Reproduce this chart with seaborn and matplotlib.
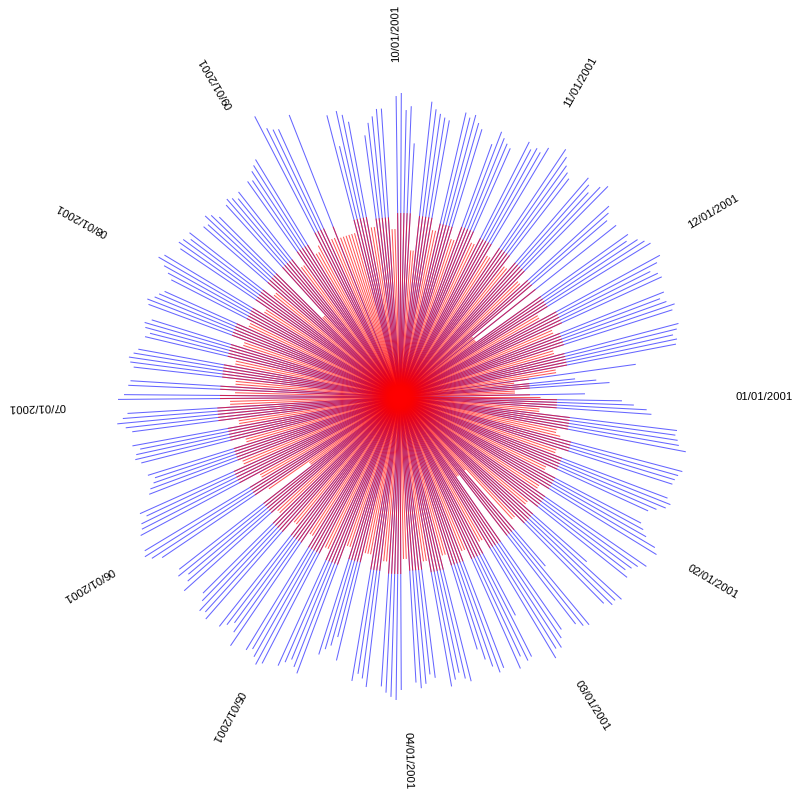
import numpy as np
import pandas as pd
import matplotlib
matplotlib.use("Agg")
import matplotlib.pyplot as plt
import seaborn as sns

# NYSE holidays / closures in 2001
holidays = ["2001-01-01", "2001-01-15", "2001-02-19", "2001-04-13", "2001-05-28",
            "2001-07-04", "2001-09-03", "2001-09-11", "2001-09-12", "2001-09-13",
            "2001-09-14", "2001-11-22", "2001-12-25"]

tick_labels = ["01/01/2001", "02/01/2001", "03/01/2001", "04/01/2001", "05/01/2001",
               "06/01/2001", "07/01/2001", "08/01/2001", "09/01/2001", "10/01/2001",
               "11/01/2001", "12/01/2001"]

# outer (blue) series, one value per trading day
blue = [
    # Jan
    222, 234, 247, 252, 279, 278, 281, 283, 291, 292, 289, 287, 286, 286, 291, 288, 280, 273, 272, 277, 283,
    # Feb
    296, 301, 299, 292, 288, 284, 290, 249, 300, 296, 297, 290, 223, 296, 293, 287, 283, 290, 298,
    # Mar
    296, 304, 247, 291, 293, 286, 297, 290, 293, 285, 276, 264, 293, 289, 282, 288, 294, 283, 279, 288, 292, 286,
    # Apr
    293, 303, 300, 296, 290, 292, 284, 280, 288, 271, 248, 258, 263, 270, 295, 290, 284, 289, 295, 300,
    # May
    304, 298, 292, 296, 301, 288, 280, 286, 292, 295, 290, 293, 284, 278, 290, 281, 276, 285, 280, 287, 296, 301,
    # Jun
    298, 294, 290, 288, 280, 285, 269, 266, 261, 258, 264, 267, 272, 270, 265, 272, 270, 276, 284, 278, 273,
    # Jul
    282, 276, 272, 270, 268, 272, 274, 270, 266, 262, 258, 264, 266, 260, 268, 271, 265, 262, 258, 257, 263,
    # Aug
    270, 279, 275, 265, 270, 268, 262, 267, 260, 258, 266, 262, 255, 259, 263, 260, 256, 261, 264, 262, 270, 274, 278,
    # Sep
    316, 300, 296, 294, 303, 291, 258, 293, 288, 280, 264, 276, 282, 289, 289,
    # Oct
    301, 304, 287, 291, 254, 297, 290, 286, 283, 281, 292, 288, 292, 285, 280, 269, 284, 279, 275, 272, 286, 280, 284,
    # Nov
    282, 290, 298, 292, 285, 280, 276, 289, 284, 278, 290, 296, 283, 278, 272, 276, 280, 275, 285, 290, 294,
    # Dec
    296, 290, 280, 286, 288, 284, 278, 283, 290, 286, 288, 285, 280, 283, 281, 238, 176, 197, 210, 185,
]

# inner (red) series, one value per calendar week (weeks start Monday 01/01/2001):
# level on open-market days and level on weekends / closed days
red_week = [157, 171, 177, 173, 175, 176, 177, 175, 176, 177, 176, 178, 174, 177,
            175, 170, 179, 176, 176, 179, 173, 175, 182, 174, 175, 183, 180, 179,
            177, 179, 172, 174, 175, 175, 178, 185, 183, 183, 180, 184, 182, 178,
            181, 178, 179, 177, 173, 173, 178, 172, 170, 130, 130]
red_closed = [140, 160, 165, 162, 165, 165, 166, 98, 165, 166, 164, 166, 162, 165,
              160, 158, 168, 164, 164, 167, 112, 160, 170, 160, 163, 170, 165, 168,
              165, 167, 160, 162, 111, 163, 166, 172, 170, 172, 168, 147, 170, 166,
              170, 166, 167, 165, 94, 160, 166, 160, 158, 115, 120]

dates = pd.bdate_range("2001-01-01", "2001-12-31", freq="C", holidays=holidays)
assert len(dates) == len(blue), (len(dates), len(blue))

days = pd.date_range("2001-01-01", "2001-12-31", freq="D")
week = (days.dayofyear - 1) // 7
is_open = days.isin(dates)
red_vals = np.where(is_open, np.asarray(red_week)[week], np.asarray(red_closed)[week])

df_blue = pd.DataFrame({
    "date": dates,
    "theta": 2 * np.pi * (dates.dayofyear - 1) / 365.0,
    "value": blue,
})
df_red = pd.DataFrame({
    "date": days,
    "theta": 2 * np.pi * (days.dayofyear - 1) / 365.0,
    "value": red_vals,
})

sns.set_theme(style="white")
plt.rcParams["font.family"] = ["Liberation Sans", "DejaVu Sans"]

g = sns.FacetGrid(df_blue, subplot_kws=dict(projection="polar"), height=8, aspect=1, despine=False)


def draw_blue(data, **kws):
    ax = plt.gca()
    ax.vlines(data["theta"], 0, data["value"], color=(0.0, 0.0, 1.0), alpha=0.6, lw=0.75)


g.map_dataframe(draw_blue)
ax = g.ax
ax.vlines(df_red["theta"], 0, df_red["value"], color=(1.0, 0.0, 0.0), alpha=0.65, lw=0.75)

ax.set_theta_direction(-1)
ax.set_theta_offset(0)
ax.set_rlim(0, 340)
ax.grid(False)
ax.set_xticks([])
ax.set_yticks([])
ax.spines["polar"].set_visible(False)
ax.set_title("")
ax.set_facecolor("white")

for lab in tick_labels:
    d = pd.to_datetime(lab, format="%m/%d/%Y")
    t = 2 * np.pi * (d.dayofyear - 1) / 365.0
    ax.text(t, 335, lab, rotation=-np.degrees(t), rotation_mode="anchor",
            ha="left", va="center", fontsize=8.2, color="black", clip_on=False)

g.figure.set_size_inches(8, 8)
ax.set_position([0.075, 0.07875, 0.85, 0.85])
g.figure.savefig("out.png", dpi=100, facecolor="white")
